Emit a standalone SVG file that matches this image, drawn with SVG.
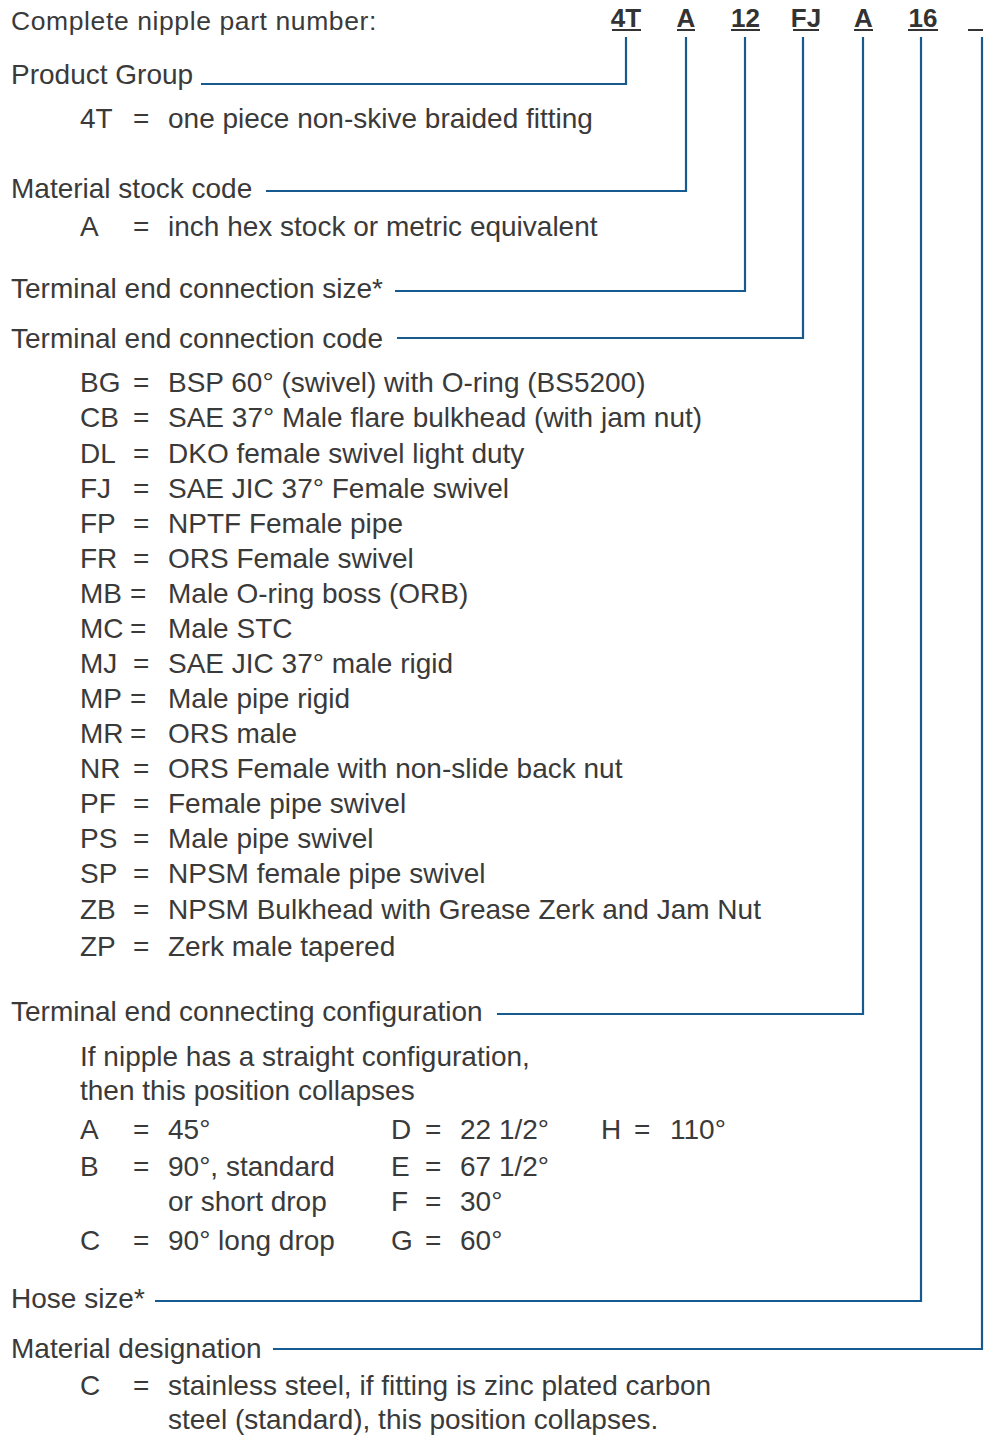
<svg xmlns="http://www.w3.org/2000/svg" width="984" height="1435" viewBox="0 0 984 1435">
<style>
text{font-family:"Liberation Sans",Arial,sans-serif;font-size:28px;fill:#3a3a3a}
.hd{font-size:26.5px;letter-spacing:0.6px}
.code{font-size:26px;font-weight:bold;fill:#333;text-anchor:middle}
.ul{stroke:#333;stroke-width:2.2;fill:none}
.con{stroke:#175a8f;stroke-width:2.2;fill:none}
</style>
<rect width="984" height="1435" fill="#fff"/>
<g id="header">
<text class="hd" x="11" y="30">Complete nipple part number:</text>
<text class="code" x="626" y="27">4T</text>
<text class="code" x="686" y="27">A</text>
<text class="code" x="745.5" y="27">12</text>
<text class="code" x="806" y="27">FJ</text>
<text class="code" x="863.5" y="27">A</text>
<text class="code" x="923" y="27">16</text>
<path class="ul" d="M612 30H641M677 30H695M731 30H760M793 30H819M854 30H873M908 30H938M968 30H983"/>
</g>
<g id="connectors">
<path class="con" d="M626 37V84H201"/>
<path class="con" d="M686 37V191H266"/>
<path class="con" d="M745 37V291H395"/>
<path class="con" d="M803 37V338H397"/>
<path class="con" d="M863 37V1014H497"/>
<path class="con" d="M921 37V1301H155"/>
<path class="con" d="M982 37V1349H273"/>
</g>
<g id="product-group">
<text x="11" y="84">Product Group</text>
<text x="80" y="128">4T</text><text x="133" y="128">=</text><text x="168" y="128">one piece non-skive braided fitting</text>
</g>
<g id="material-stock">
<text x="11" y="198">Material stock code</text>
<text x="80" y="236">A</text><text x="133" y="236">=</text><text x="168" y="236">inch hex stock or metric equivalent</text>
</g>
<g id="connection-size">
<text x="11" y="298">Terminal end connection size*</text>
</g>
<g id="connection-code">
<text x="11" y="348">Terminal end connection code</text>
<text x="80" y="392">BG</text><text x="133" y="392">=</text><text x="168" y="392">BSP 60° (swivel) with O-ring (BS5200)</text>
<text x="80" y="427">CB</text><text x="133" y="427">=</text><text x="168" y="427">SAE 37° Male flare bulkhead (with jam nut)</text>
<text x="80" y="463">DL</text><text x="133" y="463">=</text><text x="168" y="463">DKO female swivel light duty</text>
<text x="80" y="498">FJ</text><text x="133" y="498">=</text><text x="168" y="498">SAE JIC 37° Female swivel</text>
<text x="80" y="533">FP</text><text x="133" y="533">=</text><text x="168" y="533">NPTF Female pipe</text>
<text x="80" y="568">FR</text><text x="133" y="568">=</text><text x="168" y="568">ORS Female swivel</text>
<text x="80" y="603">MB</text><text x="130" y="603">=</text><text x="168" y="603">Male O-ring boss (ORB)</text>
<text x="80" y="638">MC</text><text x="130" y="638">=</text><text x="168" y="638">Male STC</text>
<text x="80" y="673">MJ</text><text x="133" y="673">=</text><text x="168" y="673">SAE JIC 37° male rigid</text>
<text x="80" y="708">MP</text><text x="130" y="708">=</text><text x="168" y="708">Male pipe rigid</text>
<text x="80" y="743">MR</text><text x="130" y="743">=</text><text x="168" y="743">ORS male</text>
<text x="80" y="778">NR</text><text x="133" y="778">=</text><text x="168" y="778">ORS Female with non-slide back nut</text>
<text x="80" y="813">PF</text><text x="133" y="813">=</text><text x="168" y="813">Female pipe swivel</text>
<text x="80" y="848">PS</text><text x="133" y="848">=</text><text x="168" y="848">Male pipe swivel</text>
<text x="80" y="883">SP</text><text x="133" y="883">=</text><text x="168" y="883">NPSM female pipe swivel</text>
<text x="80" y="919">ZB</text><text x="133" y="919">=</text><text x="168" y="919">NPSM Bulkhead with Grease Zerk and Jam Nut</text>
<text x="80" y="956">ZP</text><text x="133" y="956">=</text><text x="168" y="956">Zerk male tapered</text>
</g>
<g id="configuration">
<text x="11" y="1021">Terminal end connecting configuration</text>
<text x="80" y="1066">If nipple has a straight configuration,</text>
<text x="80" y="1100">then this position collapses</text>
<text x="80" y="1139">A</text><text x="133" y="1139">=</text><text x="168" y="1139">45°</text>
<text x="391" y="1139">D</text><text x="425" y="1139">=</text><text x="460" y="1139">22 1/2°</text>
<text x="601" y="1139">H</text><text x="634" y="1139">=</text><text x="670" y="1139">110°</text>
<text x="80" y="1176">B</text><text x="133" y="1176">=</text><text x="168" y="1176">90°, standard</text>
<text x="391" y="1176">E</text><text x="425" y="1176">=</text><text x="460" y="1176">67 1/2°</text>
<text x="168" y="1211">or short drop</text>
<text x="391" y="1211">F</text><text x="425" y="1211">=</text><text x="460" y="1211">30°</text>
<text x="80" y="1250">C</text><text x="133" y="1250">=</text><text x="168" y="1250">90° long drop</text>
<text x="391" y="1250">G</text><text x="425" y="1250">=</text><text x="460" y="1250">60°</text>
</g>
<g id="hose-size">
<text x="11" y="1308">Hose size*</text>
</g>
<g id="material-designation">
<text x="11" y="1358">Material designation</text>
<text x="80" y="1395">C</text><text x="133" y="1395">=</text><text x="168" y="1395">stainless steel, if fitting is zinc plated carbon</text>
<text x="168" y="1429">steel (standard), this position collapses.</text>
</g>
</svg>
